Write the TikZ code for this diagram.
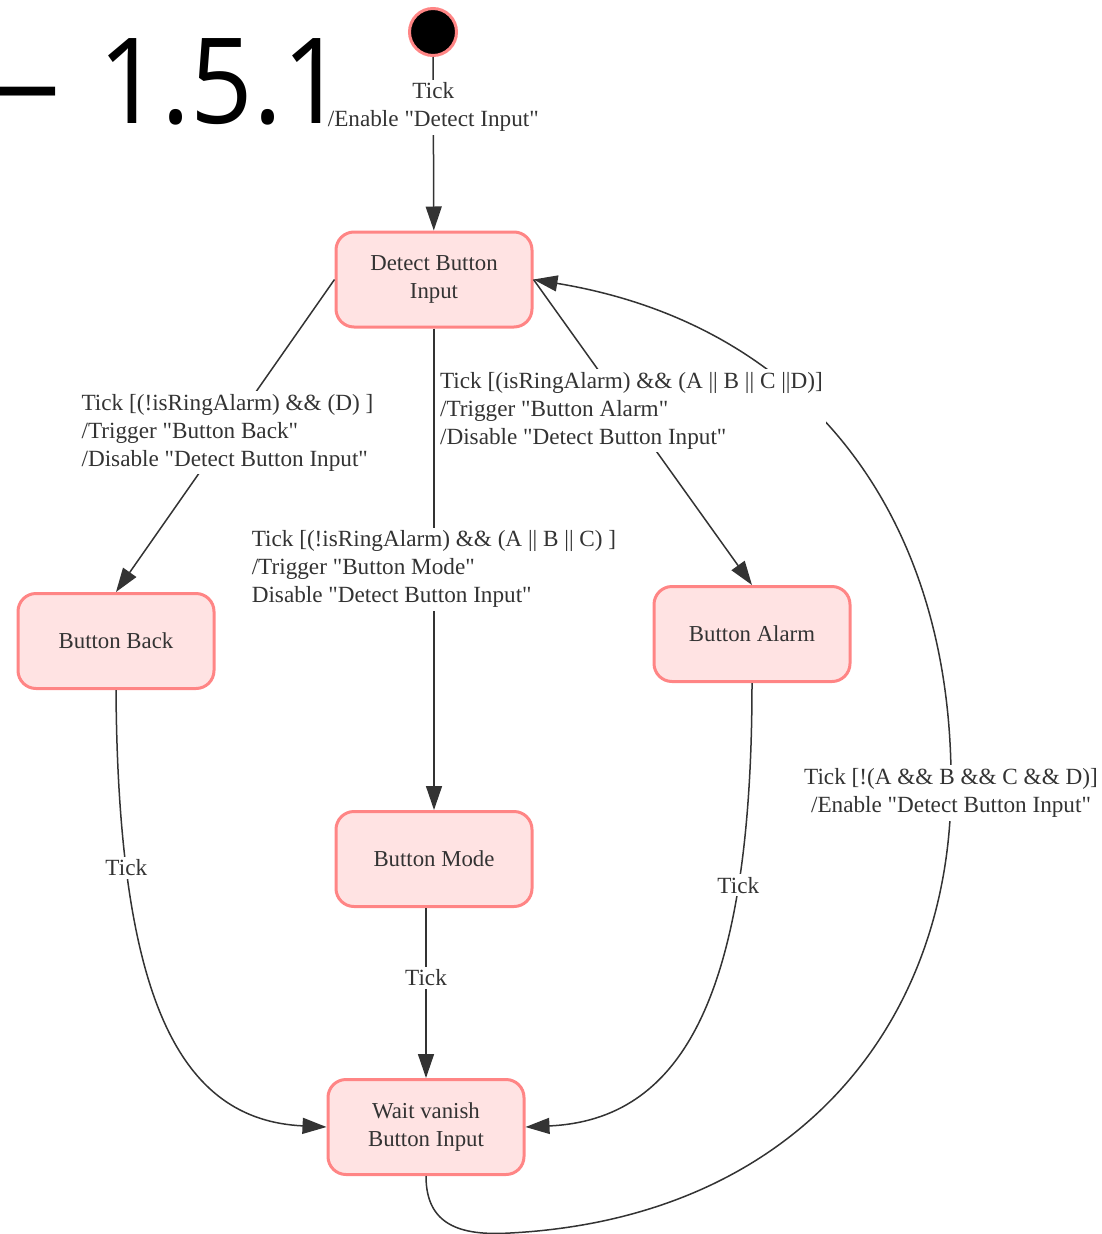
\documentclass[tikz,border=0pt]{standalone}
\usepackage{fontspec}
\setmainfont{Liberation Serif}
\newfontfamily\titlefont{Open Sans}
\usetikzlibrary{arrows.meta}
\definecolor{nodefill}{HTML}{FFE3E3}
\definecolor{nodeborder}{HTML}{FF8585}
\definecolor{ink}{HTML}{333333}
\newcommand{\lblfont}{\fontsize{23.2}{28}\selectfont}
\newcommand{\stfont}{\fontsize{22.8}{28}\selectfont}
\newcommand{\dq}{\textquotedbl}
\begin{document}
\begin{tikzpicture}[x=1pt,y=-1pt,
  state/.style={draw=nodeborder, fill=nodefill, line width=3pt, rounded corners=18pt,
    minimum width=196pt, minimum height=95pt, align=center, text=ink, font=\stfont, inner sep=0pt},
  edge/.style={draw=ink, line width=1.5pt, -{Triangle[length=24pt,width=16pt]}},
  elabel/.style={fill=white, text=ink, font=\lblfont, inner sep=3pt},
]
\useasboundingbox (0,0) rectangle (1101,1234);
\clip (0,0) rectangle (1101,1234);

% title
\node[anchor=base east, inner sep=0pt, font=\titlefont\fontsize{119}{120}\selectfont, text=black] (title) at (345,123) {\scalebox{0.92}[1]{—\hspace{42pt}1.5.1}};

% states
\node[circle, fill=black, draw=nodeborder, line width=3pt, minimum size=47pt, inner sep=0pt] (init) at (433,32) {};
\node[state] (detect) at (434,279.5) {Detect Button\\Input};
\node[state] (back) at (116,641) {Button Back};
\node[state] (alarm) at (752,634) {Button Alarm};
\node[state] (mode) at (434,859) {Button Mode};
\node[state] (wait) at (426,1127) {Wait vanish\\Button Input};

\coordinate (c1) at (510,1233);
\coordinate (c2) at (951,793);

% loop back (drawn first, under the other labels)
\draw[edge] (wait.south) .. controls (426,1225) and (460,1236) .. (c1)
  .. controls (795,1218) and (948,1025) .. (c2)
  .. controls (955,520) and (810,325) .. (detect.east);
\node[elabel, align=center] (looplbl) at (c2) {Tick [!(A \&\& B \&\& C \&\& D)]\\/Enable {\dq}Detect Button Input{\dq}};

% edges
\draw[edge] (init) -- (detect)
  node[elabel, pos=0.29, align=center] {Tick\\/Enable {\dq}Detect Input{\dq}};
\draw[edge] (detect.west) -- (back.north)
  node[elabel, pos=0.49, align=left] {Tick [(!isRingAlarm) \&\& (D) ]\\/Trigger {\dq}Button Back{\dq}\\/Disable {\dq}Detect Button Input{\dq}};
\draw[edge] (detect.east) -- (alarm.north)
  node[elabel, pos=0.43, xshift=4pt, align=left] {Tick [(isRingAlarm) \&\& (A || B || C ||D)]\\/Trigger {\dq}Button Alarm{\dq}\\/Disable {\dq}Detect Button Input{\dq}};
\draw[edge] (detect) -- (mode)
  node[elabel, pos=0.5, align=left] {Tick [(!isRingAlarm) \&\& (A || B || C) ]\\/Trigger {\dq}Button Mode{\dq}\\Disable {\dq}Detect Button Input{\dq}};

\draw[edge] (back.south) .. controls (118,1000) and (180,1120) .. (wait.west)
  node[elabel, pos=0.22] {Tick};
\draw[edge] (mode.south -| wait.north) -- (wait.north)
  node[elabel, pos=0.41] {Tick};
\draw[edge] (alarm.south) .. controls (752,1000) and (680,1120) .. (wait.east)
  node[elabel, pos=0.25] {Tick};
\end{tikzpicture}
\end{document}
